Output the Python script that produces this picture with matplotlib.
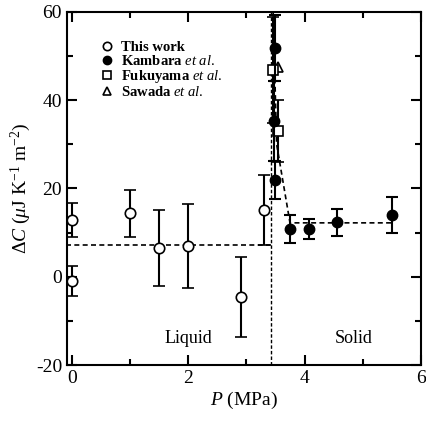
import matplotlib.pyplot as plt
from matplotlib.lines import Line2D
from matplotlib.ticker import MultipleLocator

plt.rcParams['font.family'] = ['Liberation Serif', 'DejaVu Serif']
plt.rcParams['mathtext.fontset'] = 'custom'
plt.rcParams['mathtext.rm'] = 'Liberation Serif'
plt.rcParams['mathtext.it'] = 'Liberation Serif:italic'
plt.rcParams['mathtext.bf'] = 'Liberation Serif:bold'
plt.rcParams['axes.unicode_minus'] = False

# This work (open circles)
this_p = [0.0, 0.0, 1.0, 1.5, 2.0, 2.9, 3.3]
this_c = [12.8, -1.0, 14.4, 6.5, 7.0, -4.6, 15.1]
this_err = [3.9, 3.4, 5.3, 8.5, 9.5, 9.0, 8.0]

# Kambara et al. (filled circles)
kam_p = [3.50, 3.48, 3.49, 3.75, 4.07, 4.55, 5.5]
kam_c = [51.8, 35.3, 21.9, 10.8, 10.8, 12.3, 14.0]
kam_err = [7.5, 9.0, 4.2, 3.2, 2.2, 3.0, 4.0]

# Fukuyama et al. (open squares)
fuk_p = [3.45, 3.55]
fuk_c = [46.8, 33.0]
fuk_err = [12.0, 7.0]

# Sawada et al. (open triangles)
saw_p = [3.54]
saw_c = [47.6]

# guide lines
melt_p = 3.43
liquid_level = 7.2
kam_line_p = [3.46, 3.52, 3.75, 5.5]
kam_line_c = [60.0, 30.0, 12.2, 12.2]

fig = plt.figure(figsize=(4.26, 4.22), dpi=100)
ax = fig.add_axes([0.157, 0.135, 0.831, 0.837])

ax.plot([-0.1, melt_p], [liquid_level, liquid_level], 'k--', lw=1.2, dashes=(3, 2))
ax.plot([melt_p, melt_p], [-20, 60], 'k--', lw=1.0, dashes=(2.5, 1.5))
ax.plot(kam_line_p, kam_line_c, 'k--', lw=1.2, dashes=(3, 2))

ebkw = dict(ecolor='k', elinewidth=1.5, capsize=4, capthick=1.5, ls='none')
ax.errorbar(fuk_p, fuk_c, yerr=fuk_err, fmt='s', mfc='white', mec='k', ms=7,
            mew=1.2, zorder=3, **ebkw)
ax.errorbar(kam_p, kam_c, yerr=kam_err, fmt='o', mfc='k', mec='k', ms=7.5,
            zorder=4, **ebkw)
ax.errorbar(this_p, this_c, yerr=this_err, fmt='o', mfc='white', mec='k', ms=7.5,
            mew=1.2, zorder=4, **ebkw)
ax.plot(saw_p, saw_c, '^', mfc='white', mec='k', ms=7, mew=1.2, ls='none', zorder=3)

ax.set_xlim(-0.086, 6.0)
ax.set_ylim(-20, 60)
ax.xaxis.set_major_locator(MultipleLocator(2))
ax.xaxis.set_minor_locator(MultipleLocator(1))
ax.yaxis.set_major_locator(MultipleLocator(20))
ax.yaxis.set_minor_locator(MultipleLocator(10))
ax.tick_params(which='both', direction='in', top=True, right=True, width=1.5,
               labelsize=14)
ax.tick_params(which='major', length=7)
ax.tick_params(which='minor', length=4)
for s in ax.spines.values():
    s.set_linewidth(1.5)

ax.set_xlabel(r'$\it{P}$ (MPa)', fontsize=14, labelpad=2)
ax.set_ylabel(r'$\Delta\it{C}$ ($\mu$J K$^{-1}$ m$^{-2}$)', fontsize=14, labelpad=2)

ax.text(2.0, -14, 'Liquid', fontsize=13, ha='center', va='center')
ax.text(4.85, -14, 'Solid', fontsize=13, ha='center', va='center')

handles = [
    Line2D([], [], marker='o', mfc='white', mec='k', mew=1.2, ms=6, ls='none'),
    Line2D([], [], marker='o', mfc='k', mec='k', ms=6, ls='none'),
    Line2D([], [], marker='s', mfc='white', mec='k', mew=1.2, ms=6, ls='none'),
    Line2D([], [], marker='^', mfc='white', mec='k', mew=1.2, ms=6, ls='none'),
]
labels = ['This work', r'Kambara $\it{et\ al.}$', r'Fukuyama $\it{et\ al.}$',
          r'Sawada $\it{et\ al.}$']
ax.legend(handles, labels, loc='upper left', bbox_to_anchor=(0.055, 0.955),
          frameon=False, handlelength=1.0, handletextpad=0.5, labelspacing=0.0,
          prop={'weight': 'bold', 'size': 10.5})

fig.savefig('out.png', dpi=100)
